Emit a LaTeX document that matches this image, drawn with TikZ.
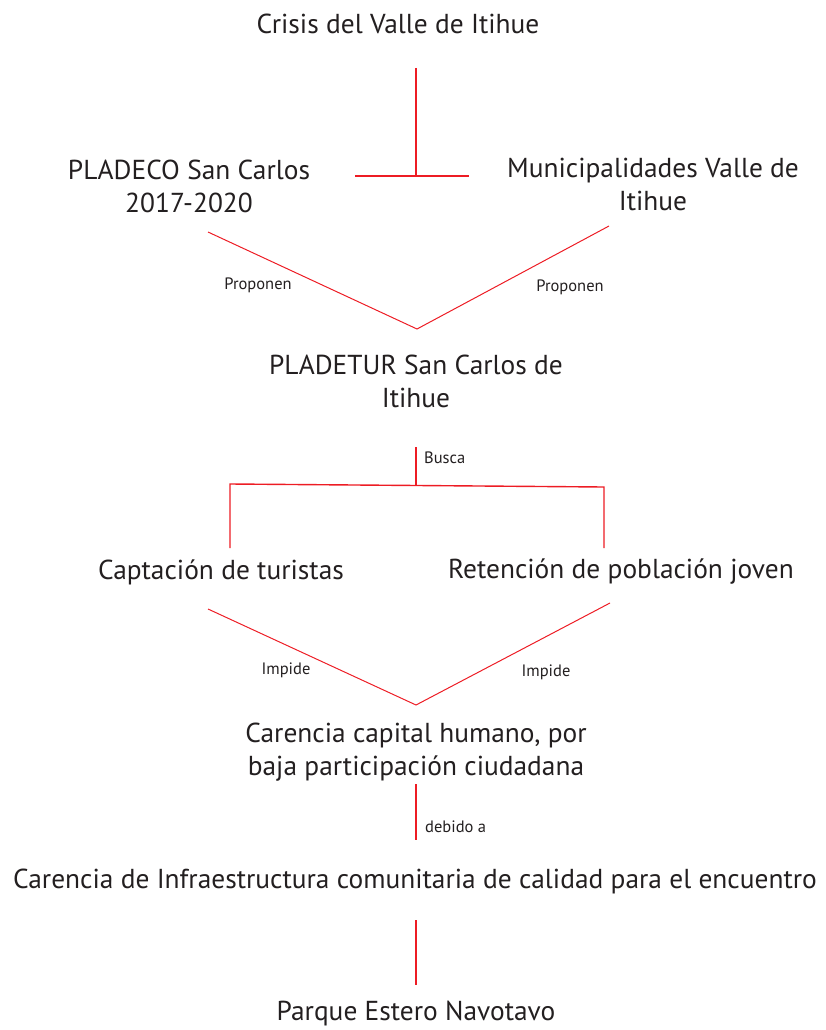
\documentclass[tikz,border=0pt]{standalone}
\usepackage{fontspec}
\setmainfont{PT Sans}
\definecolor{linered}{HTML}{ED1C24}
\definecolor{inkgray}{HTML}{231F20}

\begin{document}
\begin{tikzpicture}[x=1pt, y=-1pt,
  box/.style={text=inkgray, font=\fontsize{27.4}{33}\selectfont, align=center, inner sep=0pt},
  tag/.style={text=inkgray, font=\fontsize{16.5}{18}\selectfont, inner sep=0pt},
  stem/.style={linered, line width=1.4pt},
  arm/.style={linered, line width=1pt}]

% Page
\useasboundingbox (0,0) rectangle (825,1030);

% Texts
\node[box] (crisis) at (398,24) {Crisis del Valle de Itihue};
\node[box] (pladeco) at (189,186) {PLADECO San Carlos\\2017-2020};
\node[box] (muni) at (653,184) {Municipalidades Valle de\\Itihue};
\node[box] (pladetur) at (416,381) {PLADETUR San Carlos de\\Itihue};
\node[box] (captacion) at (221,572) {Captación de turistas};
\node[box] (retencion) at (621,572) {Retención de población joven};
\node[box] (capital) at (416,752) {Carencia capital humano, por\\baja participación ciudadana};
\node[box] (infra) at (415,881) {Carencia de Infraestructura comunitaria de calidad para el encuentro};
\node[box] (parque) at (416,1013) {Parque Estero Navotavo};

% Line ends
\coordinate (t1) at (416,68);
\coordinate (t2) at (416,176);
\coordinate (tl) at (355,176);
\coordinate (tr) at (469,176);
\coordinate (v1l) at (208,232);
\coordinate (v1b) at (417,329);
\coordinate (v1r) at (609,226);
\coordinate (b1) at (416,447);
\coordinate (b2) at (416,485);
\coordinate (bl) at (230,484);
\coordinate (br) at (604,487);
\coordinate (bld) at (230,548);
\coordinate (brd) at (604,548);
\coordinate (v2l) at (208,609);
\coordinate (v2b) at (416,705);
\coordinate (v2r) at (610,603);
\coordinate (d1) at (416,784);
\coordinate (d2) at (416,840);
\coordinate (p1) at (416,920);
\coordinate (p2) at (416,985);

% Connectors
\draw[stem] (t1) -- (t2);
\draw[stem] (tl) -- (tr);
\draw[arm] (v1l) -- (v1b) -- (v1r);
\draw[stem] (b1) -- (b2);
\draw[stem] (bld) -- (bl) -- (br) -- (brd);
\draw[arm] (v2l) -- (v2b) -- (v2r);
\draw[stem] (d1) -- (d2);
\draw[stem] (p1) -- (p2);

% Labels
\node[tag] (prop1) at (258,285) {Proponen};
\node[tag] (prop2) at (570,287) {Proponen};
\node[tag, anchor=west] (busca) at (424,458) {Busca};
\node[tag] (imp1) at (286,670) {Impide};
\node[tag] (imp2) at (546,672) {Impide};
\node[tag, anchor=west] (debido) at (425,827) {debido a};

\end{tikzpicture}
\end{document}
